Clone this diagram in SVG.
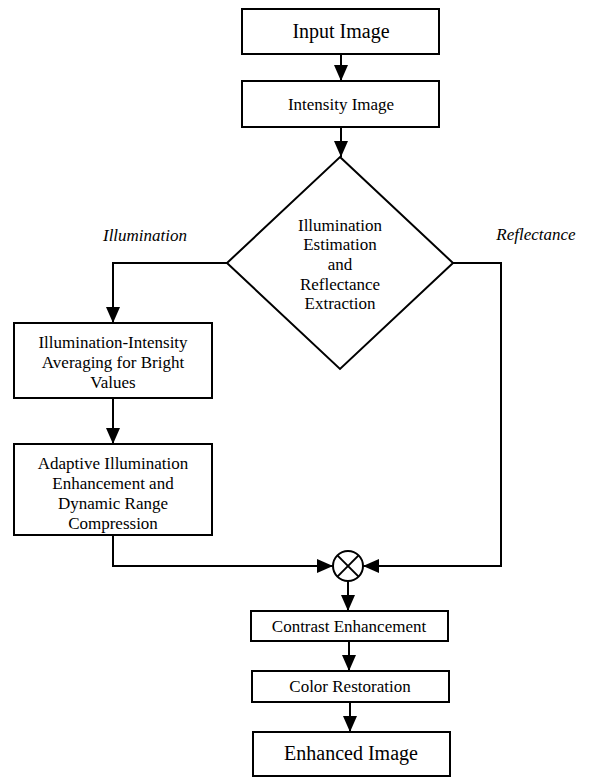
<svg xmlns="http://www.w3.org/2000/svg" width="589" height="777" viewBox="0 0 589 777">
<style>
.box{fill:#fff;stroke:#000;stroke-width:2}
.ln{fill:none;stroke:#000;stroke-width:2}
text{font-family:"Liberation Serif","Times New Roman",serif;fill:#000;text-anchor:middle}
.t17{font-size:17px}
.t20{font-size:20px}
.it{font-size:17px;font-style:italic}
</style>
<defs>
<marker id="ah" viewBox="0 0 16 14" refX="16" refY="7" markerWidth="16" markerHeight="14" markerUnits="userSpaceOnUse" orient="auto">
<path d="M0,0 L16,7 L0,14 Z" fill="#000"/>
</marker>
</defs>
<rect width="589" height="777" fill="#fff"/>
<g id="connectors">
<line class="ln" x1="341" y1="54" x2="341" y2="81" marker-end="url(#ah)"/>
<line class="ln" x1="341" y1="127" x2="341" y2="157" marker-end="url(#ah)"/>
<polyline class="ln" points="227,263 113,263 113,323" marker-end="url(#ah)"/>
<line class="ln" x1="113" y1="398" x2="113" y2="444" marker-end="url(#ah)"/>
<polyline class="ln" points="113,535 113,566 333,566" marker-end="url(#ah)"/>
<polyline class="ln" points="453,263 501,263 501,566 363,566" marker-end="url(#ah)"/>
<line class="ln" x1="348" y1="581" x2="348" y2="611" marker-end="url(#ah)"/>
<line class="ln" x1="349" y1="641" x2="349" y2="671" marker-end="url(#ah)"/>
<line class="ln" x1="350" y1="702" x2="350" y2="732" marker-end="url(#ah)"/>
<text class="it" x="145" y="241">Illumination</text>
<text class="it" x="536" y="240">Reflectance</text>
</g>
<g id="input">
<rect class="box" x="242" y="9" width="197" height="45"/>
<text class="t20" x="341" y="38">Input Image</text>
</g>
<g id="intensity">
<rect class="box" x="242" y="81" width="197" height="46"/>
<text class="t17" x="341" y="110">Intensity Image</text>
</g>
<g id="decision">
<polygon class="box" points="340,157 453,263 340,369 227,263"/>
<text class="t17" x="340" y="231">Illumination</text>
<text class="t17" x="340" y="250">Estimation</text>
<text class="t17" x="340" y="270">and</text>
<text class="t17" x="340" y="290">Reflectance</text>
<text class="t17" x="340" y="309">Extraction</text>
</g>
<g id="averaging">
<rect class="box" x="14" y="323" width="198" height="75"/>
<text class="t17" x="113" y="348">Illumination-Intensity</text>
<text class="t17" x="113" y="368">Averaging for Bright</text>
<text class="t17" x="113" y="388">Values</text>
</g>
<g id="adaptive">
<rect class="box" x="14" y="444" width="198" height="91"/>
<text class="t17" x="113" y="469">Adaptive Illumination</text>
<text class="t17" x="113" y="489">Enhancement and</text>
<text class="t17" x="113" y="509">Dynamic Range</text>
<text class="t17" x="113" y="529">Compression</text>
</g>
<g id="multiply">
<circle class="box" cx="348" cy="566" r="15"/>
<line class="ln" x1="337.4" y1="555.4" x2="358.6" y2="576.6"/>
<line class="ln" x1="358.6" y1="555.4" x2="337.4" y2="576.6"/>
</g>
<g id="contrast">
<rect class="box" x="251" y="611" width="197" height="30"/>
<text class="t17" x="349" y="632">Contrast Enhancement</text>
</g>
<g id="color">
<rect class="box" x="252" y="671" width="197" height="31"/>
<text class="t17" x="350" y="692">Color Restoration</text>
</g>
<g id="enhanced">
<rect class="box" x="253" y="732" width="197" height="44"/>
<text class="t20" x="351" y="760">Enhanced Image</text>
</g>
</svg>
